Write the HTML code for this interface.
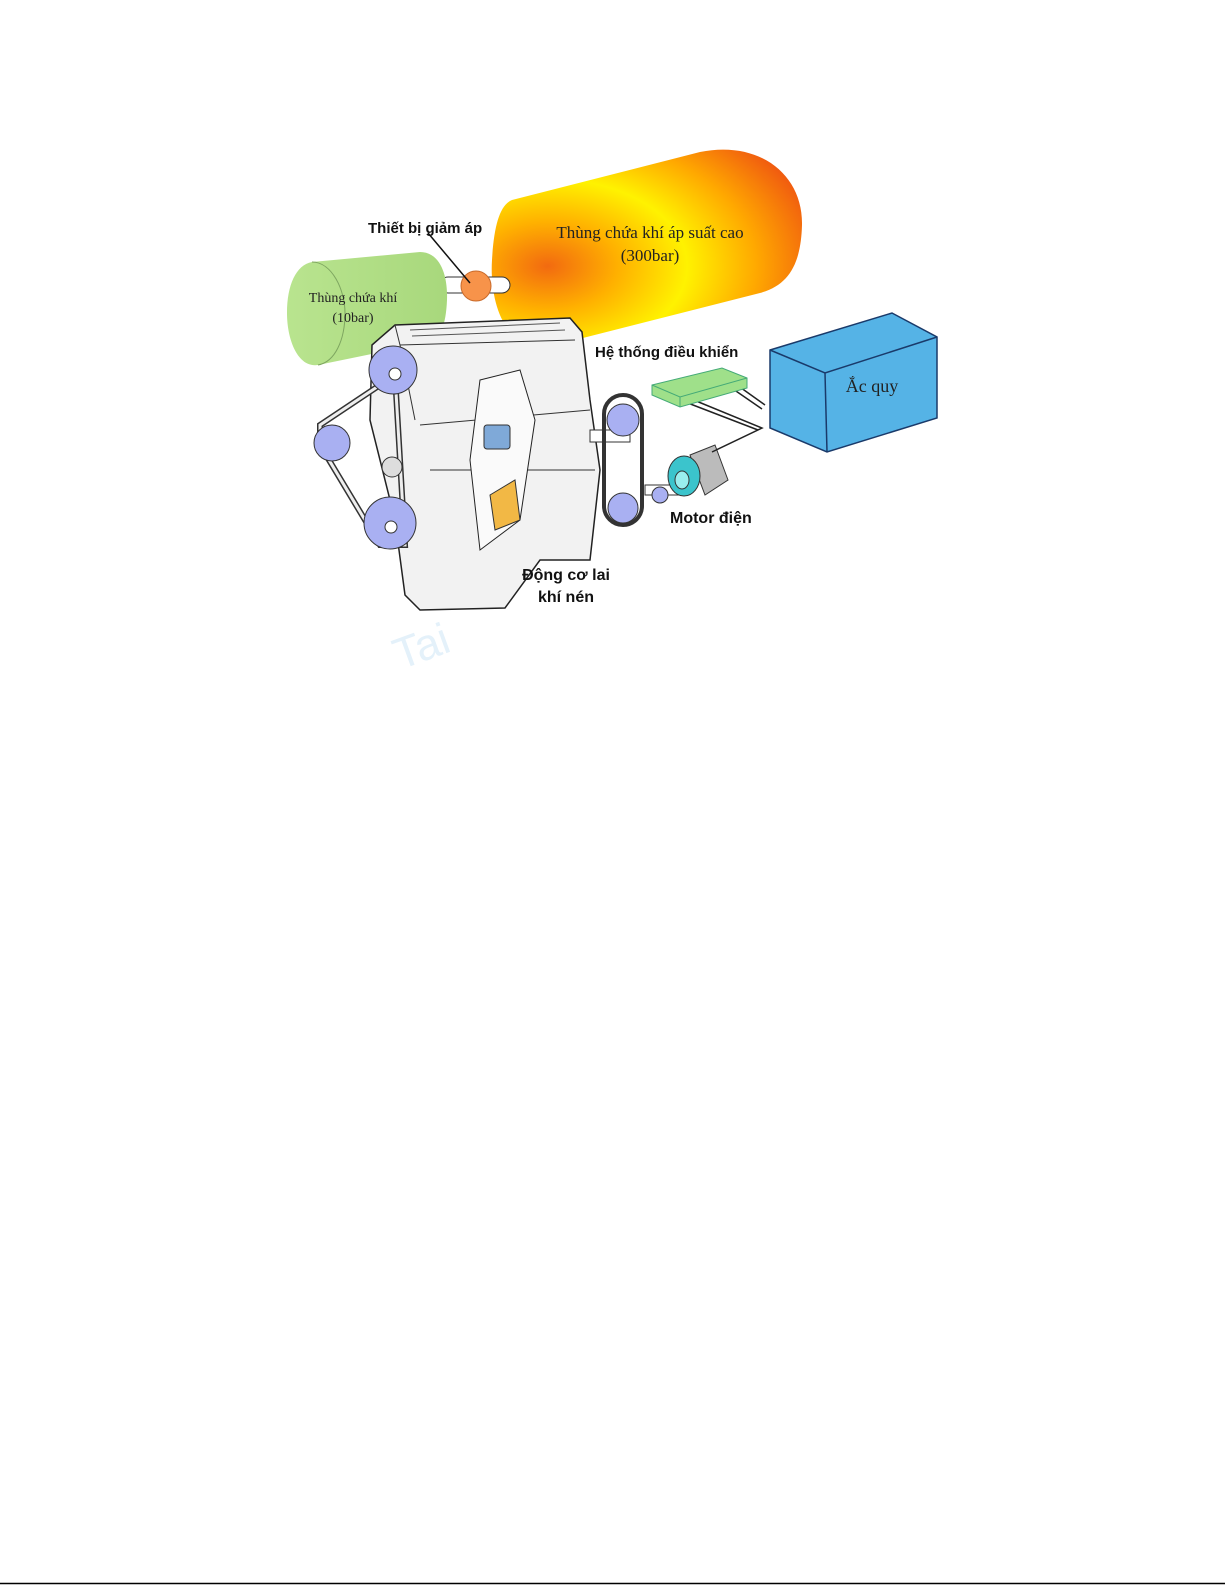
<!DOCTYPE html>
<html><head><meta charset="utf-8"><style>
html,body{margin:0;padding:0;background:#fff;}
body{width:1225px;height:1585px;position:relative;overflow:hidden;}
svg{position:absolute;left:0;top:0;}
.b{font-family:"Liberation Sans",sans-serif;font-weight:bold;fill:#111;}
.s{font-family:"Liberation Serif",serif;fill:#222;}
</style></head><body>
<svg width="1225" height="1585" viewBox="0 0 1225 1585">
<defs>
<radialGradient id="og" cx="0.18" cy="0.6" r="0.9">
<stop offset="0" stop-color="#f26a10"/><stop offset="0.25" stop-color="#ffb000"/><stop offset="0.5" stop-color="#fff200"/><stop offset="0.75" stop-color="#ffa800"/><stop offset="1" stop-color="#f05a10"/>
</radialGradient>
<linearGradient id="gg" x1="0" x2="1"><stop offset="0" stop-color="#b9e48f"/><stop offset="1" stop-color="#a8d87c"/></linearGradient>
</defs>
<path d="M512,200 L700,152 C760,140 803,175 802,225 C801,262 790,285 760,293 L575,340 C555,345 540,345 522,340 C498,330 490,290 492,260 C494,225 500,205 512,200 Z" fill="url(#og)"/>
<rect x="440" y="277" width="70" height="16" rx="8" fill="#fff" stroke="#333" stroke-width="1"/>
<path d="M398,318 L415,305 L440,325 L420,345 Z" fill="#fff" stroke="#333" stroke-width="1"/>
<path d="M312,262 L420,252 C440,252 448,275 447,300 C446,325 440,340 430,342 L318,365 C298,368 287,340 287,313 C287,285 296,265 312,262 Z" fill="url(#gg)"/>
<path d="M312,262 C332,262 345,290 345,313 C345,340 335,362 318,365" fill="none" stroke="#7ea660" stroke-width="1"/>
<circle cx="476" cy="286" r="15" fill="#f7934a" stroke="#c96a2a" stroke-width="1"/>
<line x1="428" y1="233" x2="470" y2="283" stroke="#111" stroke-width="1.5"/>
<path d="M372,345 L395,325 L570,318 L582,332 L590,400 L600,470 L590,560 L540,560 L505,608 L420,610 L405,595 L395,520 L370,420 Z" fill="#f2f2f2" stroke="#222" stroke-width="1.5"/>
<path d="M395,325 L400,345 L575,340 M400,345 L415,420 M420,425 L590,410 M430,470 L595,470" fill="none" stroke="#333" stroke-width="1"/>
<path d="M410,330 L560,323 M412,336 L565,330" stroke="#555" stroke-width="1" fill="none"/>
<path d="M480,380 L520,370 L535,420 L520,520 L480,550 L470,460 Z" fill="#fafafa" stroke="#222" stroke-width="1"/>
<rect x="484" y="425" width="26" height="24" rx="3" fill="#7fa9d8" stroke="#333"/>
<path d="M490,495 L515,480 L520,520 L495,530 Z" fill="#f2b845" stroke="#333"/>
<path d="M320,425 L395,375 L405,545 L380,545 L320,445 Z" fill="none" stroke="#333" stroke-width="6"/>
<path d="M320,425 L395,375 L405,545 L380,545 L320,445 Z" fill="none" stroke="#eee" stroke-width="3"/>
<circle cx="393" cy="370" r="24" fill="#a9b0f2" stroke="#333"/><circle cx="395" cy="374" r="6" fill="#fff" stroke="#333"/>
<circle cx="332" cy="443" r="18" fill="#a9b0f2" stroke="#333"/>
<circle cx="390" cy="523" r="26" fill="#a9b0f2" stroke="#333"/><circle cx="391" cy="527" r="6" fill="#fff" stroke="#333"/>
<circle cx="392" cy="467" r="10" fill="#ddd" stroke="#333"/>
<rect x="590" y="430" width="40" height="12" fill="#fff" stroke="#333"/>
<rect x="604" y="395" width="38" height="130" rx="19" fill="none" stroke="#333" stroke-width="4"/>
<circle cx="623" cy="420" r="16" fill="#a9b0f2" stroke="#333"/>
<circle cx="623" cy="508" r="15" fill="#a9b0f2" stroke="#333"/>
<rect x="645" y="485" width="40" height="10" fill="#fff" stroke="#333"/>
<circle cx="660" cy="495" r="8" fill="#a9b0f2" stroke="#333"/>
<path d="M690,455 L715,445 L728,480 L705,495 Z" fill="#bbb" stroke="#333"/>
<ellipse cx="684" cy="476" rx="16" ry="20" fill="#3bc4cc" stroke="#333"/>
<ellipse cx="682" cy="480" rx="7" ry="9" fill="#9ee" stroke="#333"/>
<path d="M737,385 L765,405 M733,389 L762,409 M680,400 L758,430 L712,452 M684,396 L762,428 L716,450" fill="none" stroke="#222" stroke-width="1.5"/>
<path d="M652,385 L722,368 L747,378 L747,388 L680,407 L652,395 Z" fill="#9fe08a" stroke="#4a7" stroke-width="1"/>
<path d="M652,385 L680,397 L747,378 M680,397 L680,407" fill="none" stroke="#4a7"/>
<path d="M770,350 L892,313 L937,337 L937,418 L827,452 L770,428 Z" fill="#55b3e6" stroke="#1a3a6a" stroke-width="1.5"/>
<path d="M770,350 L825,373 L937,337 M825,373 L827,452" fill="none" stroke="#1a3a6a" stroke-width="1.5"/>
<text class="b" x="368" y="233" font-size="15">Thiết bị giảm áp</text>
<text class="s" x="650" y="238" font-size="17" text-anchor="middle">Thùng chứa khí áp suất cao</text>
<text class="s" x="650" y="261" font-size="17" text-anchor="middle">(300bar)</text>
<text class="s" x="353" y="302" font-size="14" text-anchor="middle">Thùng chứa khí</text>
<text class="s" x="353" y="322" font-size="14" text-anchor="middle">(10bar)</text>
<text class="b" x="595" y="357" font-size="15">Hệ thống điều khiển</text>
<text class="s" x="872" y="392" font-size="18" text-anchor="middle">Ắc quy</text>
<text class="b" x="670" y="523" font-size="16">Motor điện</text>
<text class="b" x="566" y="580" font-size="16" text-anchor="middle">Động cơ lai</text>
<text class="b" x="566" y="602" font-size="16" text-anchor="middle">khí nén</text>
<text x="400" y="670" font-family="Liberation Sans,sans-serif" font-size="44" fill="#e4f1fa" transform="rotate(-20 400 670)">Tai</text>
<line x1="0" y1="1583.5" x2="1225" y2="1583.5" stroke="#000" stroke-width="1.5"/>
</svg>
</body></html>
